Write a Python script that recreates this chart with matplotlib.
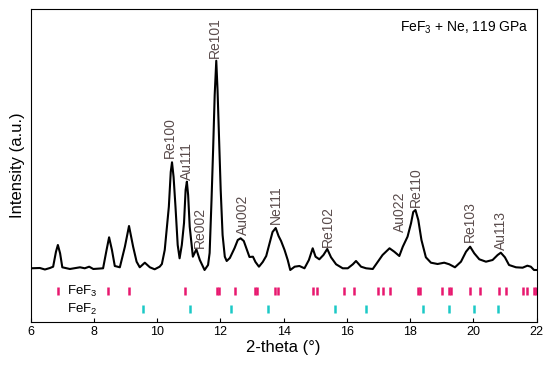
import matplotlib
matplotlib.use('Agg')
import matplotlib.pyplot as plt

plt.rcParams['font.family'] = ['Liberation Sans', 'DejaVu Sans']
plt.rcParams['mathtext.fontset'] = 'custom'
plt.rcParams['mathtext.rm'] = 'Liberation Sans'
plt.rcParams['mathtext.it'] = 'Liberation Sans'

# XRD pattern (2-theta in deg, intensity in arbitrary units)
two_theta = [6.01, 6.29, 6.45, 6.61, 6.71, 6.80, 6.86, 6.93, 7.00, 7.24, 7.56, 7.71, 7.85, 7.98,
             8.29, 8.40, 8.48, 8.57, 8.66, 8.82, 8.98, 9.11, 9.24, 9.35, 9.45, 9.61, 9.77, 9.92,
             10.08, 10.15, 10.24, 10.37, 10.43, 10.47, 10.52, 10.58, 10.65, 10.71,
             10.78, 10.85, 10.90, 10.94, 10.98, 11.03, 11.13, 11.24, 11.35, 11.50, 11.61,
             11.66, 11.72, 11.77, 11.82, 11.87, 11.91, 11.96, 12.01, 12.07, 12.14, 12.20,
             12.30, 12.45, 12.55, 12.64, 12.74, 12.82, 12.92, 13.03, 13.11, 13.22, 13.34,
             13.45, 13.56, 13.65, 13.75, 13.84, 13.92, 14.03, 14.13, 14.21, 14.35, 14.50,
             14.66, 14.80, 14.92, 15.01, 15.13, 15.26, 15.38, 15.50, 15.66, 15.87, 16.03,
             16.19, 16.29, 16.45, 16.61, 16.82, 16.98, 17.13, 17.35, 17.50, 17.66, 17.77,
             17.92, 18.03, 18.10, 18.17, 18.26, 18.36, 18.50, 18.66, 18.87, 19.08, 19.24,
             19.42, 19.61, 19.77, 19.90, 20.03, 20.19, 20.40, 20.61, 20.77, 20.87, 21.00,
             21.13, 21.35, 21.56, 21.71, 21.82, 21.92, 22.00]
intensity = [53.7, 54, 52.5, 54, 55.3, 70.3, 77, 68.7, 54.7, 53, 54.7, 53.7, 55.3, 53,
             53.7, 72, 84.7, 72, 56, 54.7, 75.3, 96, 75.3, 60.3, 54.7, 59.3, 54.7, 52.7,
             55.3, 58, 72, 115.3, 150, 159.7, 145, 115.3, 77, 63.7,
             77, 99, 132, 140.3, 127, 95.3, 65.3, 72.7, 62, 52, 57,
             69, 122, 172, 227, 261.3, 232, 182, 132, 87, 65.3, 61,
             64, 74, 82, 83.7, 81, 74, 65, 65.3, 60, 55.3, 60,
             66, 79, 90, 94, 86, 81, 72, 62, 52, 55.3, 56,
             53.7, 62, 73.7, 65.3, 62.7, 67, 73, 64.7, 57.7, 53.7, 53.7,
             57.7, 61, 55.3, 53.7, 53, 60.3, 67, 73.7, 70.3, 66, 75.3,
             85.3, 98.7, 110, 112, 102, 82, 64.7, 59.3, 58, 59.3, 57.7,
             54.7, 60.3, 70.3, 75.3, 68.7, 62.7, 60.3, 62, 67, 69.3, 64.7,
             57, 54.7, 54.3, 56.3, 55.3, 52, 52]

# peak labels
peak_names = ['Re100', 'Au111', 'Re002', 'Re101', 'Au002', 'Ne111',
              'Re102', 'Au022', 'Re110', 'Re103', 'Au113']
peak_x = [10.40, 10.93, 11.35, 11.84, 12.71, 13.77, 15.40, 17.68, 18.19, 19.90, 20.87]
peak_y = [164, 142, 74, 264, 87, 98, 75, 90, 115, 80, 72]

# reference reflections
fef3_pos = [6.87, 8.45, 9.10, 10.88, 11.90, 11.95, 12.45, 13.08, 13.15, 13.74, 13.81,
            14.94, 15.07, 15.90, 16.24, 16.99, 17.13, 17.37, 18.25, 18.33, 19.00,
            19.23, 19.31, 19.91, 20.22, 20.80, 21.04, 21.56, 21.70, 21.92, 21.98]
fef2_pos = [9.56, 11.04, 12.35, 13.52, 15.64, 16.61, 18.40, 19.22, 20.02, 20.78]

fig = plt.figure(figsize=(5.5, 3.69), dpi=100)
ax = fig.add_axes([0.0558, 0.1274, 0.9197, 0.8482])

ax.plot(two_theta, intensity, color='black', lw=1.5)

for name, x, y in zip(peak_names, peak_x, peak_y):
    ax.text(x, y, name, rotation=90, ha='center', va='bottom', fontsize=10, color='#5a4c4c')

ax.vlines(fef3_pos, 27, 35, color='#e8186f', lw=1.8)
ax.vlines(fef2_pos, 8.7, 17, color='#1cc9c6', lw=1.8)
ax.text(7.16, 31, 'FeF$_3$', fontsize=9.5, va='center', ha='left')
ax.text(7.16, 13, 'FeF$_2$', fontsize=9.5, va='center', ha='left')

ax.text(21.74, 294, 'FeF$_3$ + Ne, 119 GPa', fontsize=10, ha='right', va='center')

ax.set_xlim(6, 22)
ax.set_ylim(0, 313)
ax.set_xticks(range(6, 23, 2))
ax.set_yticks([])
ax.tick_params(axis='x', direction='in', length=3, labelsize=9, pad=3)
ax.set_xlabel('2-theta (°)', fontsize=12, labelpad=1)
ax.set_ylabel('Intensity (a.u.)', fontsize=12, labelpad=4)

fig.savefig('out.png', dpi=100)
